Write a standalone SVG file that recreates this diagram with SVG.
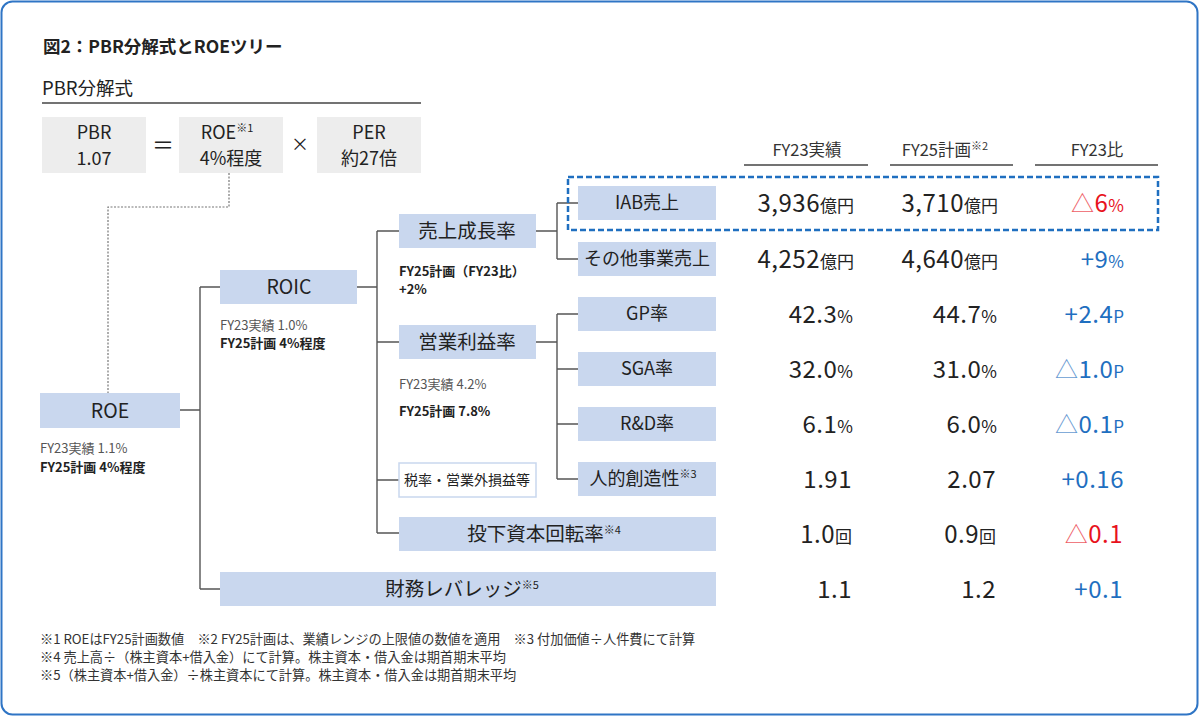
<svg xmlns="http://www.w3.org/2000/svg" width="1200" height="717" viewBox="0 0 1200 717">
<style>
text{font-family:"Noto Sans CJK JP","Noto Sans",sans-serif;fill:#222;}
.frame{fill:#fff;stroke:#2f75c5;stroke-width:2;}
.gbox{fill:#ededed;}
.box{fill:#c9d7ee;}
.wbox{fill:#fff;stroke:#c9d7ee;stroke-width:1.5;}
.lbl{font-size:19.5px;text-anchor:middle;}
.flbl{font-size:18px;text-anchor:middle;}
.lbl2{font-size:18px;text-anchor:middle;}
.sup{font-size:11px;}
.sub{font-size:13px;fill:#555;}
.subb{font-size:13px;font-weight:bold;fill:#222;}
.hdr{font-size:16.5px;text-anchor:middle;fill:#333;}
.val{font-size:24px;text-anchor:end;fill:#222;letter-spacing:0.5px;}
.u{font-size:17px;letter-spacing:0;}
.blue{fill:#1f6fc0;}
.red{fill:#e8121d;}
.tri{font-size:23px;opacity:0.7;}
.conn{fill:none;stroke:#555;stroke-width:1.4;}
.dot{fill:none;stroke:#777;stroke-width:1.2;stroke-dasharray:2 1.5;}
.hline{stroke:#444;stroke-width:1.3;}
.note{font-size:13.2px;fill:#333;}
</style>
<rect class="frame" x="1.5" y="1.5" width="1196" height="713" rx="11"/>
<text x="43" y="53" font-size="17.5" font-weight="bold">図2：PBR分解式とROEツリー</text>
<text x="42" y="95" font-size="18.5" fill="#222">PBR分解式</text>
<line class="hline" x1="42" y1="103" x2="421" y2="103"/>

<g id="pbr">
<rect class="gbox" x="42" y="117" width="104" height="56"/>
<text class="flbl" x="94" y="139">PBR</text>
<text class="flbl" x="94" y="165">1.07</text>
</g>
<text x="163" y="153" font-size="22" text-anchor="middle" fill="#555">＝</text>
<g id="roe-f">
<rect class="gbox" x="179" y="117" width="104" height="56"/>
<text class="flbl" x="227" y="139">ROE<tspan class="sup" dy="-7">※1</tspan></text>
<text class="flbl" x="231" y="165">4%程度</text>
</g>
<text x="300" y="151" font-size="18" text-anchor="middle" fill="#555">×</text>
<g id="per">
<rect class="gbox" x="317" y="117" width="104" height="56"/>
<text class="flbl" x="369" y="139">PER</text>
<text class="flbl" x="369" y="165">約27倍</text>
</g>

<g id="connectors">
<path class="dot" d="M229,173 V207 H108 V393"/>
<path class="conn" d="M180,410 H200 M200,287 V589 M200,287 H220 M200,589 H220"/>
<path class="conn" d="M357,287 H377 M377,231 V533 M377,231 H399 M377,342 H399 M377,480 H399 M377,533 H399"/>
<path class="conn" d="M536,231 H557 M557,203 V259 M557,203 H578 M557,259 H578"/>
<path class="conn" d="M536,342 H557 M557,314 V479 M557,314 H578 M557,369 H578 M557,424 H578 M557,479 H578"/>
</g>

<g id="roe">
<rect class="box" x="40" y="393" width="140" height="35"/>
<text class="lbl" x="110" y="418">ROE</text>
<text class="sub" x="40" y="453">FY23実績 1.1%</text>
<text class="subb" x="40" y="472">FY25計画 4%程度</text>
</g>
<g id="roic">
<rect class="box" x="220" y="270" width="137" height="34"/>
<text class="lbl" x="289" y="294">ROIC</text>
<text class="sub" x="220" y="330">FY23実績 1.0%</text>
<text class="subb" x="220" y="348">FY25計画 4%程度</text>
</g>
<g id="leverage">
<rect class="box" x="220" y="572" width="496" height="34"/>
<text class="lbl" x="462" y="596">財務レバレッジ<tspan class="sup" dy="-7">※5</tspan></text>
</g>
<g id="sales-growth">
<rect class="box" x="399" y="214" width="137" height="34"/>
<text class="lbl" x="467" y="238">売上成長率</text>
<text class="subb" x="399" y="276">FY25計画（FY23比）</text>
<text class="subb" x="399" y="294">+2%</text>
</g>
<g id="op-margin">
<rect class="box" x="399" y="325" width="137" height="34"/>
<text class="lbl" x="467" y="349">営業利益率</text>
<text class="sub" x="399" y="389">FY23実績  4.2%</text>
<text class="subb" x="399" y="416">FY25計画  7.8%</text>
</g>
<g id="tax">
<rect class="wbox" x="399" y="463" width="137" height="34"/>
<text x="467" y="485" font-size="14" text-anchor="middle">税率・営業外損益等</text>
</g>
<g id="turnover">
<rect class="box" x="399" y="517" width="317" height="34"/>
<text class="lbl" x="544" y="541">投下資本回転率<tspan class="sup" dy="-7">※4</tspan></text>
</g>
<g id="iab">
<rect class="box" x="578" y="186" width="138" height="34"/>
<text class="lbl2" x="647" y="209">IAB売上</text>
</g>
<g id="other">
<rect class="box" x="578" y="242" width="138" height="34"/>
<text class="lbl2" x="647" y="265" font-size="17">その他事業売上</text>
</g>
<g id="gp">
<rect class="box" x="578" y="297" width="138" height="34"/>
<text class="lbl2" x="647" y="320">GP率</text>
</g>
<g id="sga">
<rect class="box" x="578" y="352" width="138" height="34"/>
<text class="lbl2" x="647" y="375">SGA率</text>
</g>
<g id="rd">
<rect class="box" x="578" y="407" width="138" height="34"/>
<text class="lbl2" x="647" y="430">R&amp;D率</text>
</g>
<g id="human">
<rect class="box" x="578" y="462" width="138" height="34"/>
<text class="lbl2" x="643" y="485">人的創造性<tspan class="sup" dy="-7">※3</tspan></text>
</g>

<rect x="568" y="177" width="590" height="53" fill="none" stroke="#1f6fc0" stroke-width="2.5" stroke-dasharray="6 3"/>

<g id="headers">
<text class="hdr" x="807" y="156">FY23実績</text>
<line class="hline" x1="744" y1="165" x2="868" y2="165"/>
<text class="hdr" x="945" y="156">FY25計画<tspan class="sup" dy="-6">※2</tspan></text>
<line class="hline" x1="890" y1="165" x2="1013" y2="165"/>
<text class="hdr" x="1097" y="156">FY23比</text>
<line class="hline" x1="1035" y1="165" x2="1158" y2="165"/>
</g>

<g id="values">
<text class="val" x="854" y="212">3,936<tspan class="u">億円</tspan></text>
<text class="val" x="998" y="212">3,710<tspan class="u">億円</tspan></text>
<text class="val red" x="1124" y="212"><tspan class="tri">△</tspan>6<tspan class="u">%</tspan></text>

<text class="val" x="854" y="268">4,252<tspan class="u">億円</tspan></text>
<text class="val" x="998" y="268">4,640<tspan class="u">億円</tspan></text>
<text class="val blue" x="1124" y="268">+9<tspan class="u">%</tspan></text>

<text class="val" x="853" y="323">42.3<tspan class="u">%</tspan></text>
<text class="val" x="997" y="323">44.7<tspan class="u">%</tspan></text>
<text class="val blue" x="1124" y="323">+2.4<tspan class="u">P</tspan></text>

<text class="val" x="853" y="378">32.0<tspan class="u">%</tspan></text>
<text class="val" x="997" y="378">31.0<tspan class="u">%</tspan></text>
<text class="val blue" x="1124" y="378"><tspan class="tri">△</tspan>1.0<tspan class="u">P</tspan></text>

<text class="val" x="853" y="433">6.1<tspan class="u">%</tspan></text>
<text class="val" x="997" y="433">6.0<tspan class="u">%</tspan></text>
<text class="val blue" x="1124" y="433"><tspan class="tri">△</tspan>0.1<tspan class="u">P</tspan></text>

<text class="val" x="852" y="488">1.91</text>
<text class="val" x="996" y="488">2.07</text>
<text class="val blue" x="1124" y="488">+0.16</text>

<text class="val" x="852" y="543">1.0<tspan class="u">回</tspan></text>
<text class="val" x="996" y="543">0.9<tspan class="u">回</tspan></text>
<text class="val red" x="1123" y="543"><tspan class="tri">△</tspan>0.1</text>

<text class="val" x="852" y="598">1.1</text>
<text class="val" x="996" y="598">1.2</text>
<text class="val blue" x="1123" y="598">+0.1</text>
</g>

<g id="notes">
<text class="note" x="40" y="644">※1 ROEはFY25計画数値　※2 FY25計画は、業績レンジの上限値の数値を適用　※3 付加価値÷人件費にて計算</text>
<text class="note" x="40" y="662">※4 売上高÷（株主資本+借入金）にて計算。株主資本・借入金は期首期末平均</text>
<text class="note" x="40" y="680">※5（株主資本+借入金）÷株主資本にて計算。株主資本・借入金は期首期末平均</text>
</g>
</svg>
